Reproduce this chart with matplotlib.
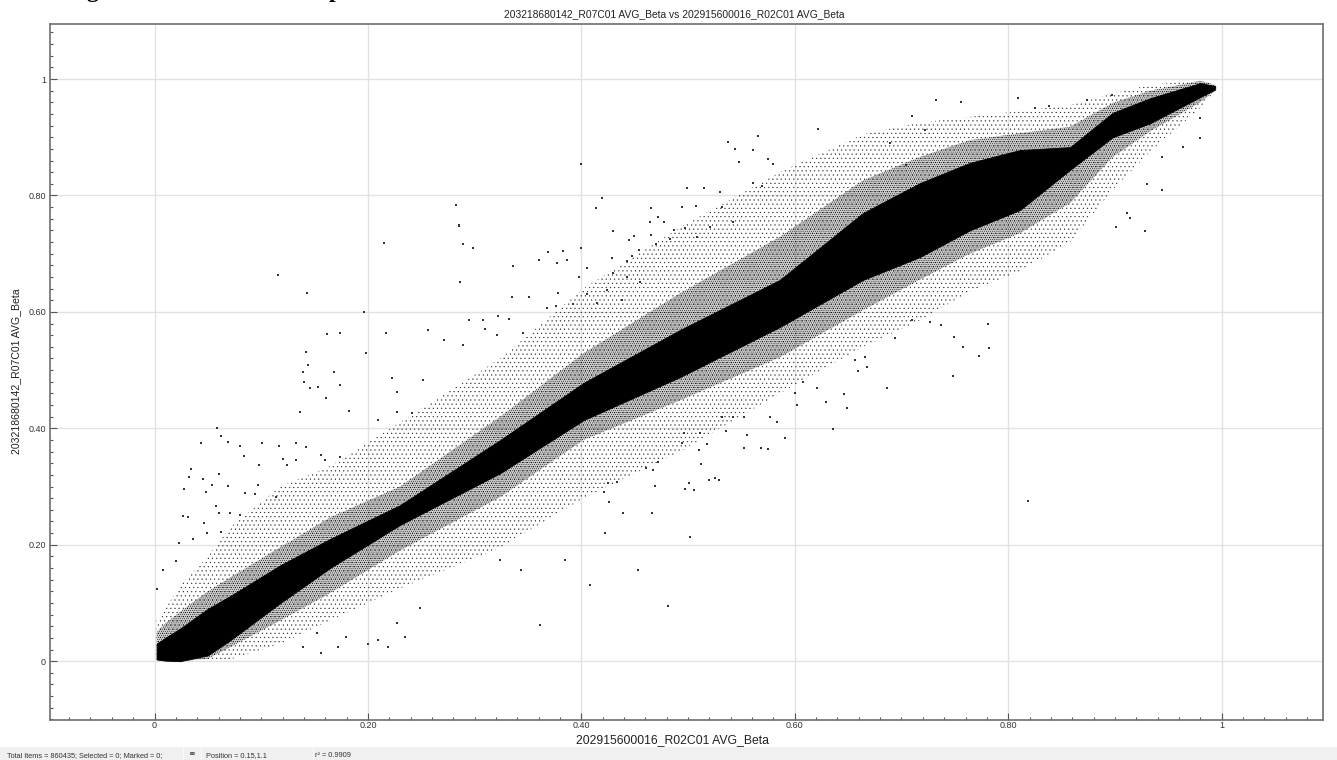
import numpy as np
import matplotlib
matplotlib.use('Agg')
import matplotlib.pyplot as plt
from matplotlib.patches import Rectangle
from matplotlib.ticker import MultipleLocator, FixedLocator, FixedFormatter

title = '203218680142_R07C01 AVG_Beta vs 202915600016_R02C01 AVG_Beta'
xlabel = '202915600016_R02C01 AVG_Beta'
ylabel = '203218680142_R07C01 AVG_Beta'
major_ticks = [0, 0.2, 0.4, 0.6, 0.8, 1]
major_labels = ['0', '0.20', '0.40', '0.60', '0.80', '1']

# the dense cloud, read as envelopes along the beta of the x sample
band_x = [.002, .01, .024, .05, .071, .118, .1645, .23, .324, .402, .4925,
          .586, .664, .717, .764, .811, .858, .898, .933, .98, .994]
core_hi = [.03, .04, .056, .09, .112, .165, .21, .268, .38, .478, .569,
           .655, .77, .821, .856, .878, .883, .942, .967, .993, .988]
core_lo = [.003, .001, 0, .01, .036, .1, .16, .234, .323, .414, .488,
           .574, .655, .694, .74, .775, .844, .90, .924, .969, .982]
near_hi = [.05, .065, .085, .12, .144, .196, .247, .30, .42, .529, .632,
           .729, .826, .866, .895, .907, .918, .959, .98, .997, .99]
near_lo = [.002, 0, 0, .004, .024, .07, .117, .19, .282, .38, .448,
           .522, .603, .655, .70, .735, .787, .866, .91, .96, .98]
outer_hi = [.07, .09, .13, .18, .23, .30, .335, .41, .52, .64, .745,
            .84, .905, .925, .935, .945, .955, .975, .99, .998, .99]
outer_lo = [.002, 0, 0, 0, .003, .03, .07, .125, .195, .28, .36,
            .46, .54, .585, .635, .67, .72, .81, .875, .95, .98]

# single probes away from the cloud
stray_x = [.144, .139, .168, .140, .146, .153, .161, .136, .182, .223, .252, .227, .209, .227, .241,
           .059, .062, .044, .069, .080, .101, .117, .133, .142, .084, .120, .133, .156, .160, .174,
           .098, .124, .034, .032, .060, .045, .028, .054, .069, .097, .048, .085, .094, .114, .058,
           .027, .031, .060, .071, .046, .080, .023, .049, .062, .036, .020, .008, .002,
           .235, .219, .209, .200, .156, .172, .179, .152, .139, .227, .249,
           .116, .143, .142, .174, .162, .196, .215, .285, .283, .256, .217, .198, .174,
           .400, .419, .414, .285, .289, .298, .336, .286, .335, .351, .378, .369, .360, .383, .377,
           .387, .400, .405, .398, .566, .537, .544, .561, .622, .548, .575, .580, .499, .515, .530,
           .561, .569, .465, .494, .507, .532, .430, .445, .449, .464, .472, .477, .465, .487, .447,
           .443, .429, .454, .470, .483, .497, .508, .521, .542, .295, .308, .322, .332, .271, .289,
           .310, .321, .345, .368, .376, .392, .415, .405, .424, .430, .443, .455, .438,
           .781, .758, .773, .782, .748, .686, .749, .737, .710, .727, .694, .666, .656, .668, .659,
           .646, .649, .629, .636, .621, .608, .600, .602, .591, .575, .568, .552, .555, .536, .511,
           .496, .494, .518, .510, .512, .525, .529, .520, .501, .497, .506, .502, .466, .439, .426,
           .469, .421, .433, .425, .461, .472, .467, .577, .552, .542, .583, .532, .819,
           .453, .481, .361, .343, .324, .385, .408, .422,
           .732, .756, .710, .809, .838, .825, .874, .897, .980, .944, .928, .914, .901, .911, .930,
           .944, .964, .980, .689, .704, .722]
stray_y = [.509, .497, .497, .479, .469, .471, .452, .428, .430, .486, .483, .462, .414, .428, .426,
           .400, .387, .375, .376, .369, .375, .369, .375, .368, .352, .347, .345, .354, .345, .351,
           .337, .337, .330, .316, .321, .313, .296, .302, .301, .302, .290, .289, .287, .282, .266,
           .249, .247, .254, .254, .237, .251, .203, .220, .222, .210, .172, .156, .124,
           .041, .024, .036, .029, .014, .024, .041, .048, .024, .065, .091,
           .663, .632, .531, .564, .562, .600, .718, .749, .783, .569, .564, .529, .474,
           .854, .796, .778, .747, .716, .710, .679, .651, .625, .625, .632, .703, .689, .704, .684,
           .689, .710, .675, .660, .902, .892, .880, .878, .914, .857, .863, .854, .813, .813, .806,
           .821, .816, .778, .780, .782, .780, .739, .723, .730, .754, .763, .754, .732, .741, .696,
           .687, .692, .706, .716, .725, .744, .729, .746, .754, .586, .586, .593, .588, .552, .543,
           .570, .560, .564, .607, .610, .613, .615, .631, .637, .667, .660, .651, .620,
           .579, .539, .524, .538, .490, .469, .557, .577, .586, .582, .555, .522, .517, .505, .498,
           .459, .435, .445, .399, .469, .479, .460, .440, .383, .364, .366, .366, .388, .395, .392,
           .392, .375, .373, .363, .338, .314, .311, .311, .306, .296, .294, .213, .254, .254, .273,
           .301, .290, .308, .306, .332, .342, .328, .419, .419, .419, .411, .419, .275,
           .156, .095, .062, .156, .174, .174, .131, .220,
           .964, .960, .936, .967, .954, .950, .964, .973, .899, .809, .739, .761, .746, .770, .820,
           .866, .883, .933, .890, .852, .912]

plt.rcParams['font.family'] = ['Liberation Sans', 'DejaVu Sans']
plt.rcParams['hatch.linewidth'] = 0.3

W, H = 1337, 760
fig = plt.figure(figsize=(W / 100, H / 100), dpi=100)
ax = fig.add_axes([49.5 / W, 1 - 720 / H, (1323 - 49.5) / W, (720 - 24) / H])
ax.set_xlim(-0.0984, 1.095)
ax.set_ylim(-0.101, 1.0945)

ax.grid(True, which='major', color='#e2e2e2', lw=1.0, zorder=0)
ax.set_axisbelow(True)

# speckled fringes: stipple for the thinning points, black for the solid core
ax.fill_between(band_x, outer_lo, outer_hi, facecolor='none', edgecolor='#222222', hatch='....',
                lw=0, zorder=2)
ax.fill_between(band_x, near_lo, near_hi, facecolor='#00000033', edgecolor='black', hatch='........',
                lw=0, zorder=3)
ax.fill_between(band_x, core_lo, core_hi, color='black', lw=0.6, zorder=4)
ax.scatter(stray_x, stray_y, s=1.3, marker='s', color='#333333', linewidths=0, zorder=5)

ax.xaxis.set_major_locator(FixedLocator(major_ticks))
ax.xaxis.set_major_formatter(FixedFormatter(major_labels))
ax.yaxis.set_major_locator(FixedLocator(major_ticks))
ax.yaxis.set_major_formatter(FixedFormatter(major_labels))
ax.xaxis.set_minor_locator(MultipleLocator(0.02))
ax.yaxis.set_minor_locator(MultipleLocator(0.02))
ax.tick_params(which='major', direction='in', length=5, width=0.8, color='#555555',
               labelsize=6.5, labelcolor='#333333')
ax.tick_params(axis='x', which='major', pad=1)
ax.tick_params(axis='y', which='major', pad=2.5)
ax.tick_params(which='minor', direction='in', length=2.5, width=0.8, color='#555555')
for s in ax.spines.values():
    s.set_color('#6e6e6e')
    s.set_linewidth(1.2)

fig.text(674.5 / W, 1 - 17 / H, title, fontsize=7.4, color='#222222', ha='center', va='baseline')
fig.text(672 / W, 1 - 743 / H, xlabel, fontsize=8.8, color='#222222', ha='center', va='baseline')
fig.text(16 / W, 1 - 371 / H, ylabel, fontsize=7.6, color='#222222', rotation=90, ha='center', va='center')

# status bar along the bottom of the window
fig.add_artist(Rectangle((0, 0), 1, 13 / H, transform=fig.transFigure, color='#f0f0f0', lw=0))
for px in [183, 201, 313]:
    fig.add_artist(Rectangle((px / W, 0), 1 / W, 13 / H, transform=fig.transFigure, color='#fafafa', lw=0))
status = [(7, 'Total Items = 860435; Selected = 0; Marked = 0;'),
          (206, 'Position = 0.15,1.1'),
          (315, 'r\u00b2 = 0.9909')]
for px, s in status:
    fig.text(px / W, 1 - 757 / H, s, fontsize=5.3, color='#333333', ha='left', va='baseline')
fig.text(192 / W, 1 - 757 / H, '\u26ad', fontsize=7.5, color='#444444', ha='center', va='baseline',
         family=['DejaVu Sans'])

# bottoms of a heading cropped off the top edge of the picture
for px, s in [(92, 'g'), (335, 'p')]:
    fig.text(px / W, 1 + 3 / H, s, fontsize=17, fontweight='bold', family=['Liberation Serif'],
             color='black', ha='center', va='baseline')

fig.savefig('out.png', dpi=100)
